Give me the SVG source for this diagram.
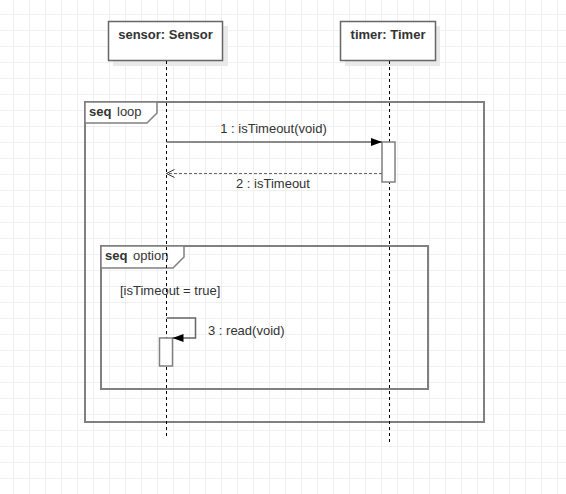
<svg xmlns="http://www.w3.org/2000/svg" width="566" height="494" viewBox="0 0 566 494">
<defs>
<pattern id="grid" x="13" y="14" width="16" height="16" patternUnits="userSpaceOnUse">
<path d="M0.5 0V16M0 0.5H16" fill="none" stroke="#f0f0f0" stroke-width="1"/>
</pattern>
<marker id="filled" markerWidth="12" markerHeight="10" refX="11" refY="4" orient="auto" markerUnits="userSpaceOnUse">
<path d="M0 0L11 4L0 8Z" fill="#000"/>
</marker>
<marker id="open" markerWidth="12" markerHeight="10" refX="9" refY="4.5" orient="auto" markerUnits="userSpaceOnUse">
<path d="M1 0.5L9 4.5L1 8.5" fill="none" stroke="#333" stroke-width="1"/>
</marker>
</defs>
<style>
text{font-family:"Liberation Sans",Arial,sans-serif;font-size:13px;fill:#333}
.b{font-weight:bold}
.box{fill:#fff;stroke:#666;stroke-width:1.5}
.shadow{fill:#e9e9e9}
.life{stroke:#000;stroke-width:1;stroke-dasharray:3 3}
.frame{fill:none;stroke:#808080;stroke-width:2}
.tab{fill:#fff;stroke:#808080;stroke-width:1.5}
.act{fill:#fff;stroke:#808080;stroke-width:1.5}
.msg{fill:none;stroke:#666;stroke-width:1.5}
.ret{fill:none;stroke:#666;stroke-width:1.2;stroke-dasharray:3 2}
</style>
<rect width="566" height="494" fill="#fff"/>
<rect width="566" height="494" fill="url(#grid)"/>

<g id="frame-loop">
<rect class="frame" x="85" y="102" width="399" height="320"/>
<path class="tab" d="M85 102H157V113L147 123H85Z"/>
<text x="89" y="116" class="b">seq</text><text x="117" y="116">loop</text>
</g>
<g id="frame-option">
<rect class="frame" x="101" y="246" width="327" height="143"/>
<path class="tab" d="M101 246H184V257L173 268H101Z"/>
<text x="105" y="260" class="b">seq</text><text x="133" y="260">option</text>
<text x="120" y="295">[isTimeout = true]</text>
</g>

<g id="sensor">
<rect class="shadow" x="113" y="26" width="115" height="40"/>
<rect class="box" x="108.5" y="21.5" width="114" height="39"/>
<text x="165.5" y="39" class="b" text-anchor="middle">sensor: Sensor</text>
<line class="life" x1="166.5" y1="61" x2="166.5" y2="437"/>
<rect class="act" x="159.5" y="338" width="13" height="28"/>
</g>
<g id="timer">
<rect class="shadow" x="345" y="26" width="95" height="40"/>
<rect class="box" x="340.5" y="21.5" width="95" height="39"/>
<text x="388" y="39" class="b" text-anchor="middle">timer: Timer</text>
<line class="life" x1="389.5" y1="61" x2="389.5" y2="443"/>
<rect class="act" x="382" y="142" width="13" height="40"/>
</g>

<g id="connectors">
<line class="msg" x1="166.5" y1="142" x2="382" y2="142" marker-end="url(#filled)"/>
<text x="273.5" y="133" text-anchor="middle">1 : isTimeout(void)</text>
<line class="ret" x1="382" y1="173.5" x2="166.5" y2="173.5" marker-end="url(#open)"/>
<text x="273" y="188" text-anchor="middle">2 : isTimeout</text>
<path class="msg" d="M166.5 318H195.5V338H172.5" marker-end="url(#filled)"/>
<text x="208" y="335">3 : read(void)</text>
</g>
</svg>
